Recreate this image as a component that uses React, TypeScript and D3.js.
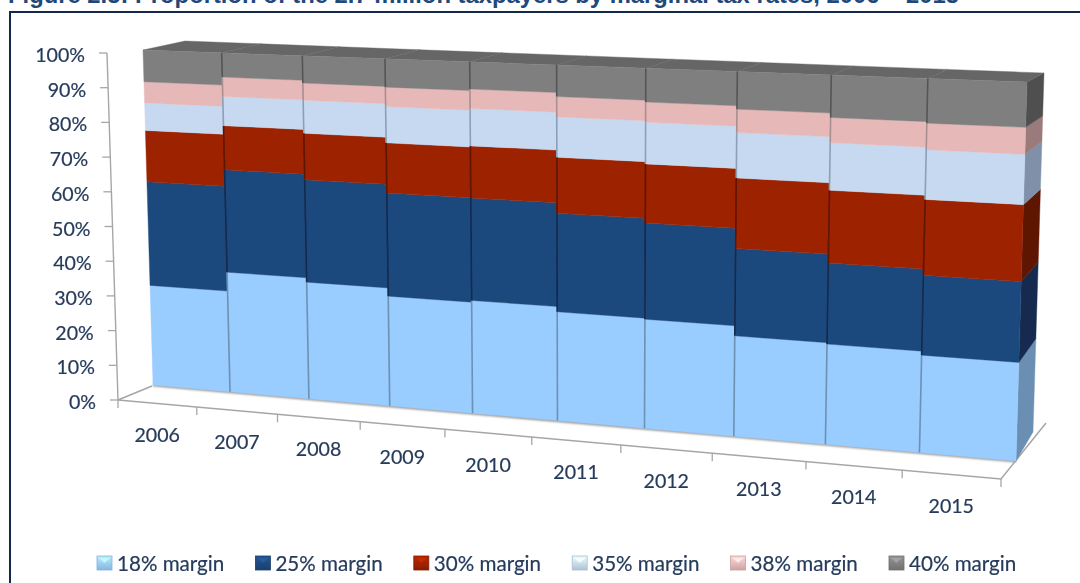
import React from "react";
import * as d3 from "d3";

const years = ["2006", "2007", "2008", "2009", "2010", "2011", "2012", "2013", "2014", "2015"];
const seriesNames = ["18% margin", "25% margin", "30% margin", "35% margin", "38% margin", "40% margin"];
const m18 = [30.2, 35.8, 34.5, 32.1, 32.6, 31.1, 30.8, 28.0, 27.6, 26.5];
const m25 = [31.0, 30.2, 29.9, 29.8, 29.2, 27.8, 26.8, 24.1, 22.1, 21.5];
const m30 = [15.2, 12.9, 13.4, 14.3, 14.7, 15.6, 16.3, 19.2, 19.6, 20.2];
const m35 = [8.1, 8.5, 9.5, 10.3, 10.5, 11.2, 11.4, 12.3, 12.7, 13.1];
const m38 = [6.2, 5.6, 4.9, 5.5, 5.4, 5.6, 5.5, 6.3, 6.7, 7.0];
const m40 = [9.3, 7.0, 7.8, 8.0, 7.6, 8.7, 9.2, 10.1, 11.3, 11.7];
const allSeries = [m18, m25, m30, m35, m38, m40];
const yTicks = [0, 10, 20, 30, 40, 50, 60, 70, 80, 90, 100];

const frontColors = ["#99ccff", "#1f497d", "#9c2200", "#c6d9f1", "#e6b9b8", "#7f7f7f"];
const sideColors = ["#6a8fb3", "#132c4f", "#5e1500", "#7f90a8", "#9a7a7a", "#505050"];
const edgeColors = ["#6d91b2", "#12294a", "#5e1500", "#8ba0b8", "#a98f8f", "#555555"];
const topColor = "#666666";
const ink = "#263b5b";
const FONT = "Lato, Carlito, sans-serif";

type P = [number, number];

function quadMap(q: [P, P, P, P]) {
  const [[x0, y0], [x1, y1], [x2, y2], [x3, y3]] = q;
  const dx1 = x1 - x2, dx2 = x3 - x2, sx = x0 - x1 + x2 - x3;
  const dy1 = y1 - y2, dy2 = y3 - y2, sy = y0 - y1 + y2 - y3;
  const den = dx1 * dy2 - dx2 * dy1;
  const g = (sx * dy2 - dx2 * sy) / den;
  const h = (dx1 * sy - sx * dy1) / den;
  const a = x1 - x0 + g * x1, b = x3 - x0 + h * x3;
  const d = y1 - y0 + g * y1, e = y3 - y0 + h * y3;
  return (u: number, v: number): P => {
    const w = g * u + h * v + 1;
    return [(a * u + b * v + x0) / w, (d * u + e * v + y0) / w];
  };
}

const uScale = d3.scaleLinear().domain([0, years.length]).range([0, 1]);
const vScale = d3.scaleLinear().domain([0, 100]).range([0, 1]);

// planes of the 3-D box as seen on screen: [bottom-left, bottom-right, top-right, top-left]
const frontPlane = quadMap([[153, 385], [1016, 461], [1027, 82], [143, 50]]);
const backPlane = quadMap([[195, 358], [1033, 432], [1044, 73], [185, 41]]);
// vertical plane standing on the floor's front edge: carries the category ticks and labels
const axisPlane = quadMap([[118, 400], [1001, 479], [1012, 100], [108, 65]]);
const floorCorners: P[] = [[152, 386], [118, 400], [1001, 479], [1046, 423]];
const front = (i: number, val: number) => frontPlane(uScale(i), vScale(val));
const back = (i: number, val: number) => backPlane(uScale(i), vScale(val));
const floorFront = (i: number) => axisPlane(uScale(i), 0);

const axisX = d3.scaleLinear().domain([0, 100]).range([118, 107]);
const axisY = d3.scaleLinear().domain([0, 100]).range([400, 53]);
const axisLabelRight = d3.scaleLinear().domain([0, 100]).range([96, 85]);
const legendX = d3.scaleLinear().domain([0, 1]).range([97, 255.4]);

const poly = (pts: P[]) => (d3.line()(pts) || "") + "Z";

const stacks = years.map((_, i) => {
  let c = 0;
  return allSeries.map((s) => {
    const lo = c;
    c += s[i];
    return [lo, c] as [number, number];
  });
});
const total = (i: number) => stacks[i][stacks[i].length - 1][1];

export default function App() {
  const n = years.length;
  const lastStack = stacks[n - 1];
  return (
    <svg
      width={1080}
      height={583}
      viewBox="0 0 1080 583"
      style={{ position: "fixed", left: 0, top: 0, background: "#fff" }}
    >
      <defs>
        <filter id="soft" x="-2%" y="-2%" width="104%" height="104%">
          <feGaussianBlur stdDeviation="0.4" />
        </filter>
        <filter id="shadow" x="-2%" y="-20%" width="104%" height="140%">
          <feGaussianBlur stdDeviation="1" />
        </filter>
        {frontColors.map((c, k) => (
          <linearGradient key={k} id={`sw${k}`} x1="0" y1="0" x2="0" y2="1">
            <stop offset="0" stopColor={d3.color(c)!.brighter(0.45).formatHex()} />
            <stop offset="1" stopColor={d3.color(c)!.darker(0.35).formatHex()} />
          </linearGradient>
        ))}
      </defs>

      <text x={8} y={3} fontFamily="'Liberation Sans', Arial, sans-serif" fontWeight="bold" fontSize={23.8} fill="#1f497d">
        Figure 2.5: Proportion of the 2.7 million taxpayers by marginal tax rates, 2006 – 2015
      </text>
      <path d="M10 583 V12 H1080" fill="none" stroke="#14284b" strokeWidth={2} />

      <g filter="url(#soft)">
        {/* floor */}
        <path d={d3.line()(floorCorners) || ""} fill="none" stroke="#a6a6a6" strokeWidth={1.5} />
        {d3.range(0, n + 1).map((i) => {
          const [x, y] = floorFront(i);
          return <line key={i} x1={x} y1={y} x2={x} y2={y + 8} stroke="#a6a6a6" strokeWidth={1.3} />;
        })}

        {/* value axis */}
        <line x1={axisX(0)} y1={axisY(0)} x2={axisX(100)} y2={axisY(100)} stroke="#a6a6a6" strokeWidth={1.4} />
        {yTicks.map((t) => (
          <g key={t}>
            <line x1={axisX(t) - 8} y1={axisY(t)} x2={axisX(t)} y2={axisY(t)} stroke="#a6a6a6" strokeWidth={1.3} />
            <text
              x={axisLabelRight(t)}
              y={axisY(t) + 1.5}
              textAnchor="end"
              dominantBaseline="central"
              fontFamily={FONT}
              fontSize={19.6}
              fill={ink}
              stroke={ink}
              strokeWidth={0.2}
            >
              {t}%
            </text>
          </g>
        ))}

        {/* soft shadow on the floor */}
        <path
          d={d3.line()([front(0, 0), front(n, 0)]) || ""}
          fill="none"
          stroke="#8c8c8c"
          strokeWidth={2.6}
          filter="url(#shadow)"
        />

        {/* right side of the last column */}
        {lastStack.map(([lo, hi], k) => (
          <path
            key={k}
            d={poly([front(n, lo), back(n, lo), back(n, hi), front(n, hi)])}
            fill={sideColors[k]}
            stroke={sideColors[k]}
            strokeWidth={0.4}
          />
        ))}

        {/* top faces */}
        {years.map((y, i) => (
          <path
            key={y}
            d={poly([front(i, total(i)), front(i + 1, total(i)), back(i + 1, total(i)), back(i, total(i))])}
            fill={topColor}
            stroke={topColor}
            strokeWidth={0.4}
          />
        ))}

        {/* front faces */}
        {years.map((y, i) =>
          stacks[i].map(([lo, hi], k) => (
            <path
              key={`${y}-${k}`}
              d={poly([front(i, lo), front(i + 1, lo), front(i + 1, hi), front(i, hi)])}
              fill={frontColors[k]}
              stroke={frontColors[k]}
              strokeWidth={0.4}
            />
          ))
        )}

        {/* seams between columns */}
        {years.map((y, i) =>
          i === 0
            ? null
            : stacks[i].map(([lo, hi], k) => (
                <line
                  key={`${y}-edge-${k}`}
                  x1={front(i, lo)[0]}
                  y1={front(i, lo)[1]}
                  x2={front(i, hi)[0]}
                  y2={front(i, hi)[1]}
                  stroke={edgeColors[k]}
                  strokeWidth={1.6}
                />
              ))
        )}

        {/* category labels */}
        {years.map((y, i) => {
          const [x, yy] = floorFront(i + 0.5);
          return (
            <text
              key={y}
              x={x}
              y={yy + 31}
              textAnchor="middle"
              dominantBaseline="central"
              fontFamily={FONT}
              fontSize={19.6}
              fill={ink}
              stroke={ink}
              strokeWidth={0.2}
            >
              {y}
            </text>
          );
        })}

        {/* legend */}
        {seriesNames.map((name, k) => {
          const x = legendX(k);
          return (
            <g key={name}>
              <rect x={x} y={556} width={15} height={14} fill={`url(#sw${k})`} stroke={d3.color(frontColors[k])!.darker(0.4).formatHex()} strokeWidth={0.8} />
              <path
                d={poly([[x + 2, 558], [x + 13, 558], [x + 7.5, 563]])}
                fill={d3.color(frontColors[k])!.brighter(0.8).formatHex()}
                opacity={0.75}
              />
              <text x={x + 20} y={563} dominantBaseline="central" fontFamily={FONT} fontSize={20.6} fill={ink} stroke={ink} strokeWidth={0.2}>
                {name}
              </text>
            </g>
          );
        })}
      </g>
    </svg>
  );
}
